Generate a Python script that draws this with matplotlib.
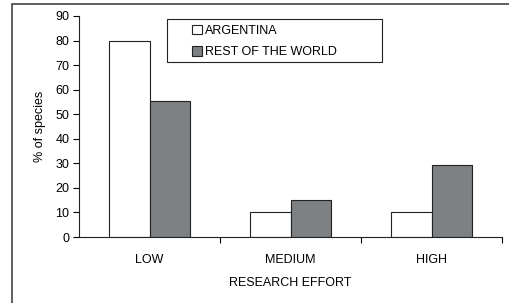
import matplotlib.pyplot as plt
import numpy as np
from matplotlib.patches import Rectangle, Patch

plt.rcParams['font.family'] = ['Liberation Sans', 'DejaVu Sans']

categories = ["LOW", "MEDIUM", "HIGH"]
argentina = [80, 10, 10]
rest_world = [55.5, 15, 29.3]
series_names = ["ARGENTINA", "REST OF THE WORLD"]

fig = plt.figure(figsize=(5.09, 3.03), dpi=100)
ax = fig.add_axes([79/509, 1 - 237/303, 423/509, 221/303])

x = np.arange(len(categories))
w = 0.287
ax.bar(x - w/2, argentina, w, color="white", edgecolor="#222222", linewidth=0.8)
ax.bar(x + w/2, rest_world, w, color="#7e8184", edgecolor="#222222", linewidth=0.8)

ax.set_xlim(-0.5, 2.5)
ax.set_ylim(0, 90)
ax.set_yticks(range(0, 91, 10))
ax.set_xticks(x)
ax.set_xticklabels(categories)
ax.set_xticks([0.5, 1.5, 2.5], minor=True)
ax.tick_params(axis="x", which="major", length=0, pad=12, labelsize=9)
ax.tick_params(axis="x", which="minor", length=4, direction="out", width=0.8)
ax.tick_params(axis="y", length=4, direction="out", width=0.8, labelsize=9, pad=3)
for s in ["top", "right"]:
    ax.spines[s].set_visible(False)
for s in ["left", "bottom"]:
    ax.spines[s].set_linewidth(0.8)
    ax.spines[s].set_color("#222222")

ax.set_ylabel("% of species", fontsize=9, labelpad=7)
ax.set_xlabel("RESEARCH EFFORT", fontsize=9, labelpad=8)

# legend box (drawn separately to get the wide padding of the original)
ax.add_patch(Rectangle((0.208, 0.792), 0.508, 0.194, transform=ax.transAxes,
                       fill=False, edgecolor="#222222", linewidth=0.8, clip_on=False))
handles = [Patch(facecolor="white", edgecolor="#222222", linewidth=0.8),
           Patch(facecolor="#7e8184", edgecolor="#222222", linewidth=0.8)]
ax.legend(handles, series_names, loc="upper left", bbox_to_anchor=(0.262, 0.972),
          fontsize=9, frameon=False, handlelength=0.8, handleheight=0.8,
          handletextpad=0.2, borderpad=0.2, labelspacing=0.75, borderaxespad=0)

fig.patches.append(Rectangle((12/509, -0.2), 1.2, 1.2 - 4/303,
                             transform=fig.transFigure, fill=False,
                             edgecolor="#444444", linewidth=1.2))

fig.savefig("out.png", dpi=100)
